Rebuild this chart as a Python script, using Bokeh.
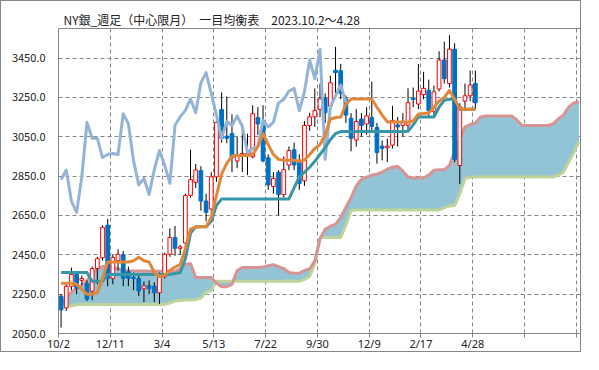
from bokeh.plotting import figure
from bokeh.models import FixedTicker, Range1d, PrintfTickFormatter, ColumnDataSource
from bokeh.embed import file_html
from bokeh.resources import INLINE

TITLE = "NY銀_週足（中心限月）　一目均衡表　2023.10.2～4.28"

tick_labels = ["10/2", "12/11", "3/4", "5/13", "7/22", "9/30", "12/9", "2/17", "4/28"]
y_ticks = [2050, 2250, 2450, 2650, 2850, 3050, 3250, 3450]

opens = [2240, 2180, 2290, 2350, 2320, 2305, 2265, 2380, 2435, 2600,
         2330, 2421, 2450, 2364, 2335, 2330, 2277, 2293, 2290, 2257,
         2340, 2453, 2538, 2483, 2510, 2752, 2818, 2878, 2723, 2683,
         2846, 3188, 3053, 3066, 2927, 2955, 2965, 2948, 3148, 3107,
         2943, 2797, 2870, 2756, 2906, 2984, 2919, 2826, 3107, 3151,
         3189, 3246, 3205, 3388, 3385, 3242, 3144, 3033, 3140, 3115,
         3148, 3097, 3002, 2994, 3007, 3110, 3107, 3109, 3247, 3216,
         3264, 3285, 3180, 3293, 3440, 3320, 3495, 2904, 3231, 3258,
         3321]
highs = [2250, 2300, 2385, 2365, 2345, 2320, 2390, 2440, 2600, 2633,
         2453, 2478, 2470, 2390, 2360, 2345, 2315, 2320, 2310, 2360,
         2460, 2584, 2596, 2500, 2760, 2984, 2911, 2900, 2760, 2870,
         3130, 3275, 3254, 3164, 3050, 3115, 3065, 3210, 3200, 3210,
         2960, 2870, 2880, 2950, 3000, 3020, 2960, 3130, 3172, 3295,
         3320, 3270, 3360, 3507, 3420, 3260, 3170, 3190, 3170, 3200,
         3330, 3120, 3030, 3040, 3207, 3150, 3170, 3296, 3300, 3420,
         3380, 3340, 3310, 3484, 3533, 3566, 3525, 3220, 3320, 3386,
         3386]
lows = [2080, 2165, 2270, 2250, 2295, 2215, 2220, 2300, 2420, 2290,
        2300, 2370, 2290, 2290, 2270, 2240, 2210, 2250, 2210, 2200,
        2330, 2440, 2445, 2450, 2460, 2740, 2790, 2674, 2620, 2660,
        2820, 3020, 3017, 2870, 2890, 2870, 2855, 2940, 3060, 2920,
        2780, 2760, 2650, 2740, 2880, 2880, 2780, 2800, 3080, 3100,
        3150, 3120, 3170, 3250, 3240, 3120, 2976, 3000, 3050, 3060,
        3080, 2913, 2930, 2921, 2990, 3000, 3050, 3080, 3200, 3190,
        3240, 3150, 3150, 3280, 3320, 3300, 2920, 2810, 3180, 3230,
        3190]
closes = [2170, 2290, 2350, 2280, 2330, 2225, 2380, 2430, 2590, 2331,
          2437, 2453, 2331, 2331, 2330, 2266, 2293, 2278, 2257, 2339,
          2453, 2538, 2483, 2490, 2751, 2832, 2881, 2723, 2666, 2846,
          3123, 3042, 3042, 2944, 2960, 2965, 2960, 3167, 3115, 2927,
          2805, 2838, 2756, 2883, 2980, 2906, 2813, 3107, 3151, 3184,
          3242, 3172, 3324, 3376, 3270, 3160, 3042, 3128, 3107, 3156,
          3102, 2970, 2991, 3002, 3133, 3100, 3123, 3223, 3239, 3282,
          3296, 3182, 3278, 3440, 3345, 3495, 2935, 3202, 3258, 3313,
          3223]

tenkan = [2305, 2305, 2305, 2300, 2275, 2250, 2250, 2257, 2330, 2413,
          2413, 2413, 2413, 2413, 2420, 2437, 2420, 2413, 2360, 2339,
          2345, 2370, 2388, 2400, 2480, 2580, 2590, 2592, 2592, 2640,
          2750, 2860, 2915, 2952, 2955, 2955, 2955, 2960, 3000, 3066,
          3010, 2960, 2935, 2930, 2930, 2930, 2925, 2930, 2960, 2990,
          3010, 3060, 3140, 3148, 3150, 3215, 3242, 3242, 3242, 3242,
          3242, 3200, 3160, 3125, 3125, 3125, 3125, 3125, 3130, 3165,
          3168, 3170, 3200, 3230, 3250, 3285, 3240, 3190, 3190, 3190,
          3190]
kijun = [2360, 2360, 2360, 2360, 2360, 2360, 2315, 2315, 2315, 2350,
         2350, 2350, 2350, 2350, 2350, 2350, 2350, 2350, 2350, 2350,
         2350, 2350, 2355, 2360, 2430, 2560, 2592, 2592, 2592, 2620,
         2700, 2734, 2734, 2734, 2734, 2734, 2734, 2734, 2734, 2734,
         2734, 2734, 2734, 2734, 2734, 2790, 2846, 2870, 2895, 2925,
         2960, 2995, 3035, 3066, 3076, 3076, 3076, 3076, 3076, 3076,
         3076, 3076, 3076, 3076, 3076, 3076, 3076, 3078, 3110, 3150,
         3150, 3150, 3150, 3200, 3235, 3240, 3240, 3190, 3190, 3190,
         3190]
span_a = [2200, 2230, 2260, 2280, 2295, 2320, 2350, 2378, 2390, 2392,
          2388, 2380, 2370, 2368, 2368, 2368, 2368, 2366, 2366, 2366,
          2366, 2366, 2366, 2380, 2402, 2405, 2335, 2335, 2335, 2335,
          2305, 2288, 2288, 2300, 2370, 2385, 2385, 2385, 2385, 2388,
          2395, 2400, 2390, 2380, 2360, 2356, 2356, 2370, 2378, 2420,
          2530, 2580, 2595, 2605, 2640, 2690, 2740, 2800, 2835, 2845,
          2855, 2860, 2870, 2885, 2895, 2900, 2875, 2845, 2840, 2840,
          2840, 2855, 2880, 2882, 2882, 2905, 2975, 3040, 3100, 3112,
          3120, 3150, 3155, 3155, 3155, 3155, 3155, 3155, 3135, 3108,
          3107, 3107, 3107, 3107, 3107, 3115, 3140, 3160, 3200, 3222,
          3226]
span_b = [2200, 2190, 2190, 2196, 2198, 2198, 2198, 2198, 2198, 2198,
          2198, 2198, 2198, 2198, 2198, 2198, 2198, 2198, 2198, 2198,
          2198, 2205, 2215, 2218, 2220, 2220, 2222, 2230, 2260, 2268,
          2315, 2315, 2315, 2315, 2315, 2315, 2315, 2315, 2315, 2315,
          2315, 2315, 2315, 2315, 2315, 2315, 2315, 2325, 2340, 2405,
          2538, 2538, 2538, 2538, 2538, 2600, 2675, 2678, 2678, 2678,
          2678, 2678, 2678, 2678, 2678, 2678, 2678, 2678, 2678, 2678,
          2678, 2678, 2678, 2678, 2690, 2698, 2700, 2760, 2838, 2845,
          2845, 2845, 2845, 2845, 2845, 2845, 2845, 2845, 2845, 2845,
          2845, 2845, 2845, 2845, 2845, 2845, 2855, 2870, 2920, 2968,
          3025]
CHIKOU_SHIFT = 25

GRAY = "#868686"
FONT = "Noto Sans CJK JP"

n = len(closes)
xs = [i + 0.5 for i in range(n)]
xs_span = [i + 0.5 for i in range(len(span_a))]
chikou = closes[CHIKOU_SHIFT:]
xs_chikou = xs[:len(chikou)]

up = [c >= o for o, c in zip(opens, closes)]
src_up = ColumnDataSource(dict(
    x=[x for x, u in zip(xs, up) if u],
    top=[c for c, u in zip(closes, up) if u],
    bottom=[o for o, u in zip(opens, up) if u]))
src_dn = ColumnDataSource(dict(
    x=[x for x, u in zip(xs, up) if not u],
    top=[o for o, u in zip(opens, up) if not u],
    bottom=[c for c, u in zip(closes, up) if not u]))

p = figure(width=581, height=352, x_range=Range1d(0, 101), y_range=Range1d(2050, 3600),
           output_backend="svg", toolbar_location=None,
           min_border_left=57, min_border_right=1, min_border_top=27, min_border_bottom=14,
           background_fill_color="white", border_fill_color="white")
p.styles = {"border": "1px solid " + GRAY}

p.title.text = TITLE
p.title.align = "left"
p.title.offset = 5
p.title.standoff = 1
p.title.text_font = FONT
p.title.text_font_style = "normal"
p.title.text_font_size = "12px"
p.title.text_color = "#222222"

p.outline_line_color = GRAY

xt = list(range(0, 101, 10))
p.xaxis.ticker = FixedTicker(ticks=xt)
p.xaxis.major_label_overrides = {t: (tick_labels[k] if k < len(tick_labels) else "") for k, t in enumerate(xt)}
p.xaxis.major_tick_in = 0
p.xaxis.major_tick_out = 4
p.xaxis.minor_tick_out = 0
p.xaxis.minor_tick_in = 0
p.xaxis.major_label_standoff = -2
p.xaxis.major_label_text_font = "Noto Sans"
p.yaxis.ticker = FixedTicker(ticks=y_ticks)
p.yaxis.formatter = PrintfTickFormatter(format="%.1f")
p.yaxis.major_tick_in = 0
p.yaxis.major_tick_out = 0
p.yaxis.minor_tick_out = 0
p.yaxis.minor_tick_in = 0
p.yaxis.major_label_standoff = 13
p.yaxis.major_label_text_font = FONT
for ax in (p.xaxis, p.yaxis):
    ax.axis_line_color = GRAY
    ax.major_tick_line_color = GRAY
    ax.major_label_text_font_size = "11px"
    ax.major_label_text_color = "#222222"

p.xgrid.ticker = FixedTicker(ticks=xt)
p.ygrid.ticker = FixedTicker(ticks=y_ticks)
for g in (p.xgrid, p.ygrid):
    g.grid_line_color = GRAY
    g.grid_line_dash = "4 3"
    g.grid_line_width = 1

# cloud
p.varea(x=xs_span, y1=span_a, y2=span_b, fill_color="#92C4D5", fill_alpha=1.0)
p.line(xs_span, span_b, line_color="#BFD39A", line_width=3, line_join="round")
p.line(xs_span, span_a, line_color="#D69594", line_width=3, line_join="round")

# candles
p.segment(x0=xs, y0=lows, x1=xs, y1=highs, line_color="black", line_width=1)
p.vbar(x="x", top="top", bottom="bottom", width=0.72, source=src_up,
       fill_color="white", line_color="#FF0000", line_width=1)
p.vbar(x="x", top="top", bottom="bottom", width=0.72, source=src_dn,
       fill_color="#0070C0", line_color="#0070C0", line_width=1)

# lines
p.line(xs_chikou, chikou, line_color="#95B3D7", line_width=3, line_join="round")
p.line(xs, kijun, line_color="#3795A8", line_width=3, line_join="round")
p.line(xs, tenkan, line_color="#E0873A", line_width=3, line_join="round")

open("out.html", "w").write(file_html(p, INLINE))
